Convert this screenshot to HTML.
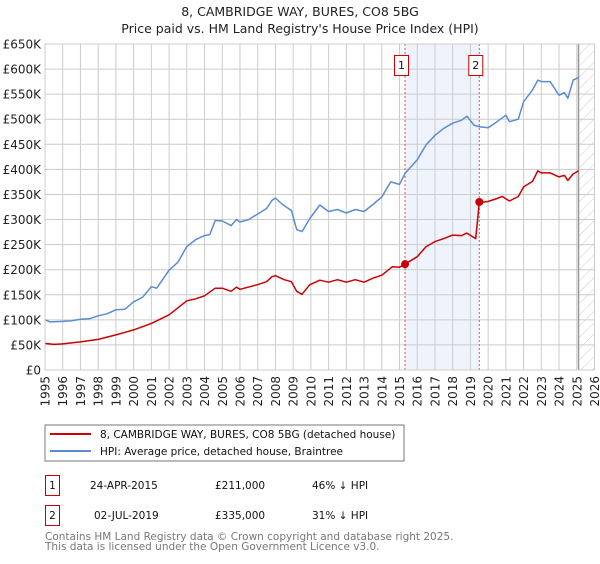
<!DOCTYPE html>
<html><head><meta charset="utf-8"><style>
body{margin:0;background:#fff;font-family:"DejaVu Sans","Liberation Sans",sans-serif;}
svg text{font-family:"DejaVu Sans","Liberation Sans",sans-serif;}
</style></head><body>
<svg id="chart" width="600" height="560" viewBox="0 0 600 560">
<defs><pattern id="hatch" width="8" height="8" patternUnits="userSpaceOnUse" patternTransform="rotate(45)"><line x1="0" y1="0" x2="0" y2="8" stroke="#ccc" stroke-width="1"/></pattern></defs>
<text x="300" y="16" text-anchor="middle" font-size="12.5" fill="#222">8, CAMBRIDGE WAY, BURES, CO8 5BG</text>
<text x="300" y="33" text-anchor="middle" font-size="12.5" fill="#222">Price paid vs. HM Land Registry's House Price Index (HPI)</text>
<g id="plot"></g>
<g>
<rect x="45" y="425" width="359" height="36" fill="#fff" stroke="#777"/>
<line x1="50" y1="434" x2="91" y2="434" stroke="#cc0000" stroke-width="2"/>
<text x="100" y="438" font-size="10.5" fill="#111">8, CAMBRIDGE WAY, BURES, CO8 5BG (detached house)</text>
<line x1="50" y1="451" x2="91" y2="451" stroke="#5b8bd0" stroke-width="2"/>
<text x="100" y="455" font-size="10.5" fill="#111">HPI: Average price, detached house, Braintree</text>
</g>
<g font-size="10.5" fill="#111">
<rect x="45.5" y="475.5" width="14" height="20" fill="#fff" stroke="#cc0000"/><text x="52.5" y="489" text-anchor="middle">1</text>
<text x="90" y="489">24-APR-2015</text><text x="215" y="489">£211,000</text><text x="312" y="489">46% ↓ HPI</text>
<rect x="45.5" y="505.5" width="14" height="20" fill="#fff" stroke="#cc0000"/><text x="52.5" y="519" text-anchor="middle">2</text>
<text x="94" y="519">02-JUL-2019</text><text x="215" y="519">£335,000</text><text x="312" y="519">31% ↓ HPI</text>
</g>
<text x="45" y="540" font-size="10.5" fill="#777">Contains HM Land Registry data © Crown copyright and database right 2025.</text>
<text x="45" y="550" font-size="10.5" fill="#777">This data is licensed under the Open Government Licence v3.0.</text>
</svg>
<script>
const yTicks=[0,50,100,150,200,250,300,350,400,450,500,550,600,650];
const years=[1995,1996,1997,1998,1999,2000,2001,2002,2003,2004,2005,2006,2007,2008,2009,2010,2011,2012,2013,2014,2015,2016,2017,2018,2019,2020,2021,2022,2023,2024,2025,2026];
const hpiT=[1995,1995.3,1996,1996.5,1997,1997.5,1998,1998.5,1999,1999.5,2000,2000.5,2001,2001.3,2002,2002.5,2003,2003.5,2004,2004.3,2004.6,2005,2005.5,2005.8,2006,2006.5,2007,2007.5,2007.8,2008,2008.4,2008.9,2009.2,2009.5,2009.94,2010.5,2011,2011.5,2012,2012.5,2013,2013.5,2014,2014.5,2015,2015.31,2016,2016.5,2017,2017.5,2018,2018.5,2018.8,2019.2,2019.5,2020,2020.5,2021,2021.2,2021.7,2022,2022.5,2022.8,2023,2023.5,2024,2024.3,2024.5,2024.8,2025.1];
const hpiV=[100,96,97,98,101,102,108,112,120,121,136,145,166,163,199,215,246,260,268,270,298,297,288,300,295,300,311,322,338,343,330,318,280,276,302,329,316,320,313,320,316,330,345,375,370,392,419,449,468,482,492,498,506,488,485,483,495,508,495,500,535,558,578,575,575,548,553,542,578,583];
const paidT=[1995,1995.5,1996,1997,1998,1999,2000,2001,2002,2003,2003.5,2004,2004.6,2005,2005.5,2005.8,2006,2007,2007.5,2007.8,2008,2008.5,2008.9,2009.2,2009.5,2009.94,2010.5,2011,2011.5,2012,2012.5,2013,2013.5,2014,2014.6,2015,2015.31,2016,2016.5,2017,2017.5,2018,2018.5,2018.8,2019.3,2019.5,2020,2020.5,2020.8,2021.2,2021.7,2022,2022.5,2022.8,2023,2023.5,2024,2024.3,2024.5,2024.8,2025.1];
const paidV=[53,51,52,56,61,70,80,93,110,138,142,148,163,163,157,165,161,170,176,186,188,180,176,157,151,170,179,175,180,175,180,175,183,189,206,205,211,226,246,256,262,269,268,273,262,334,336,342,346,337,346,365,376,397,393,393,385,388,378,391,397];
const saleT=[2015.31,2019.5];
const saleV=[211,335];
const saleLabels=["1","2"];
const L=45,R=594.5,T=44,B=370;
const xs=y=>L+(y-1995)*(R-L)/31;
const ys=v=>B-v*(B-T)/650;
const NS="http://www.w3.org/2000/svg";
const g=document.getElementById('plot');
function mk(tag,at,parent){const e=document.createElementNS(NS,tag);for(const k in at)e.setAttribute(k,at[k]);(parent||g).appendChild(e);return e;}
let e;
e=mk('rect',{x:xs(saleT[0]),y:T,width:xs(saleT[1])-xs(saleT[0]),height:B-T,fill:'#eef3fc'});


e=mk('rect',{x:xs(2025.1),y:T,width:R-xs(2025.1),height:B-T,fill:'url(#hatch)'});


yTicks.forEach(v=>{
 e=mk('line',{x1:L,x2:R,y1:ys(v),y2:ys(v),stroke:'#ccc','stroke-width':1});
 
 
 e=mk('text',{x:L-4,y:ys(v)+4.5,'text-anchor':'end','font-size':12,fill:'#222'});
 e.textContent=v===0?'£0':'£'+v+'K';
 
 
});
years.forEach(y=>{
 e=mk('line',{x1:xs(y),x2:xs(y),y1:T,y2:B,stroke:'#ccc','stroke-width':1});
 
 
 e=mk('text',{x:0,y:0,'text-anchor':'end','font-size':12,fill:'#222',transform:`translate(${xs(y)+4.5},${B+6}) rotate(-90)`});
 e.textContent=y;
 
 
});
e=mk('line',{x1:xs(2025.1),x2:xs(2025.1),y1:T,y2:B,stroke:'#999','stroke-width':1.5});


saleT.forEach((t,i)=>{
 e=mk('line',{x1:xs(t),x2:xs(t),y1:T,y2:B,stroke:'#e05050','stroke-width':1,'stroke-dasharray':'2,2'});
 
 
 e=mk('rect',{x:xs(t)-10.5,y:55.5,width:14,height:20,fill:'#fff',stroke:'#cc0000'});
 
 
 e=mk('text',{x:xs(t)-3.5,y:69,'text-anchor':'middle','font-size':11,fill:'#111'});
 e.textContent=saleLabels[i];
 
 
});
function path(ts,vs,col,name){
 let d=ts.map((t,i)=>(i?'L':'M')+xs(t).toFixed(1)+','+ys(vs[i]).toFixed(1)).join('');
 const p=mk('path',{d:d,fill:'none',stroke:col,'stroke-width':1.5,'stroke-linejoin':'round'});
 
 
}
path(hpiT,hpiV,'#5b8bd0','hpi-line');
path(paidT,paidV,'#cc0000','price-paid-line');
saleT.forEach((t,i)=>{
 e=mk('circle',{cx:xs(t),cy:ys(saleV[i]),r:4,fill:'#cc0000'});
 
 
});
mk('rect',{x:L,y:T,width:R-L,height:B-T,fill:'none',stroke:'#ccc'});
</script>
</body></html>
